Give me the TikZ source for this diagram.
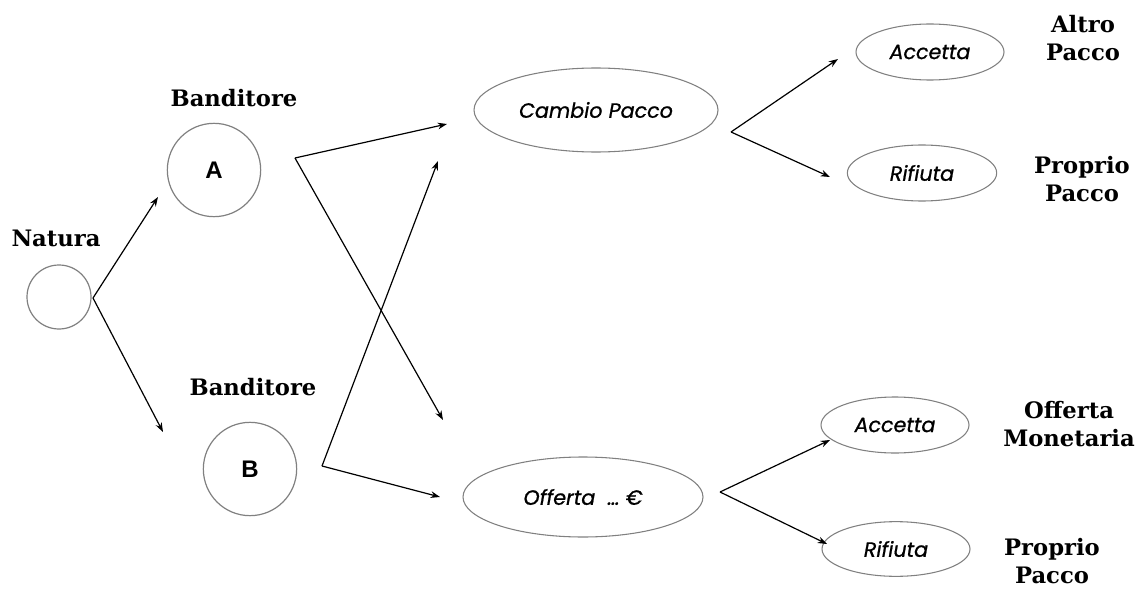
\documentclass[tikz,border=0pt]{standalone}
\usepackage{fontspec}
\setmainfont{DejaVu Serif}
\newfontfamily\itfont[FakeBold=0.8]{Poppins}
\newfontfamily\lettfont{Liberation Sans}
\usetikzlibrary{shapes.geometric,arrows.meta}
\begin{document}
\begin{tikzpicture}[x=0.75pt,y=-0.75pt,
  circ/.style={circle, draw=black!50, line width=0.9pt, inner sep=0pt, font=\lettfont\bfseries\fontsize{18}{20}\selectfont},
  ell/.style={ellipse, draw=black!50, line width=0.8pt, inner sep=0pt, font=\itfont\itshape\fontsize{15.5}{18}\selectfont},
  lbl/.style={font=\bfseries\fontsize{17}{21}\selectfont, align=center},
  arr/.style={-{Stealth[length=7pt,width=5pt]}, line width=0.9pt}]
\useasboundingbox (0,0) rectangle (1143,592);
% nodes
\node[circ, minimum size=48pt] (nat) at (59,297) {};
\node[circ, minimum size=70pt] (A) at (214,170) {A};
\node[circ, minimum size=70pt] (B) at (250,469) {B};
\node[lbl] (lnat) at (56,238) {Natura};
\node[lbl] (lA) at (234,98) {Banditore};
\node[lbl] (lB) at (253,387) {Banditore};
\node[ell, minimum width=183pt, minimum height=63pt] (cp) at (596,110) {Cambio Pacco};
\node[ell, minimum width=180pt, minimum height=60pt] (of) at (583,497) {Offerta \ \dots\ €};
\node[ell, minimum width=111pt, minimum height=42pt] (ac1) at (930,52) {Accetta};
\node[ell, minimum width=112pt, minimum height=42pt] (ri1) at (922,173) {Rifiuta};
\node[ell, minimum width=111pt, minimum height=42pt] (ac2) at (895,425) {Accetta};
\node[ell, minimum width=111pt, minimum height=41pt] (ri2) at (896,549) {Rifiuta};
\node[lbl] (o1) at (1083,38) {Altro\\Pacco};
\node[lbl] (o2) at (1082,179) {Proprio\\Pacco};
\node[lbl] (o3) at (1069,424) {Offerta\\Monetaria};
\node[lbl] (o4) at (1052,561) {Proprio\\Pacco};
% arrow end points
\coordinate (n0) at (93,298);
\coordinate (nA) at (158,197);
\coordinate (nB) at (163,432);
\coordinate (a0) at (295,158);
\coordinate (aC) at (447,124);
\coordinate (aO) at (443,420);
\coordinate (b0) at (322,466);
\coordinate (bC) at (438,161);
\coordinate (bO) at (440,497);
\coordinate (c0) at (731,132);
\coordinate (cA) at (838,59);
\coordinate (cR) at (830,177);
\coordinate (d0) at (720,492);
\coordinate (dA) at (830,440);
\coordinate (dR) at (827,544);
\draw[arr] (n0) -- (nA);
\draw[arr] (n0) -- (nB);
\draw[arr] (a0) -- (aC);
\draw[arr] (a0) -- (aO);
\draw[arr] (b0) -- (bC);
\draw[arr] (b0) -- (bO);
\draw[arr] (c0) -- (cA);
\draw[arr] (c0) -- (cR);
\draw[arr] (d0) -- (dA);
\draw[arr] (d0) -- (dR);
\end{tikzpicture}
\end{document}
